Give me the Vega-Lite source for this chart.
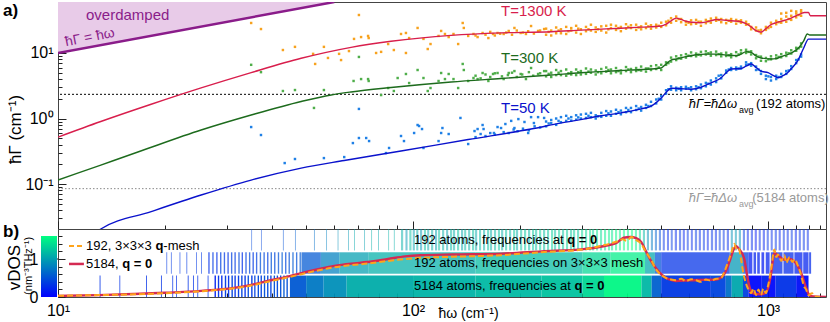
{
"$schema":"https://vega.github.io/schema/vega-lite/v6.json",
"padding":{"left":2,"top":1,"right":0,"bottom":2},
"spacing":0,
"bounds":"flush",
"config":{"font":"Liberation Sans","view":{"stroke":"#444","strokeWidth":1},"axis":{"domain":false,"grid":false,"tickColor":"#222","labelColor":"#000","titleColor":"#000","labelFlush":false,"labelOverlap":false,"labelFont":"Liberation Sans","titleFont":"Liberation Sans"}},
"datasets":{
"od":[{"w":10,"g":10},{"w":60,"g":60}],
"lr":[{"w":10,"g":0.52},{"w":13.2,"g":0.9},{"w":18.3,"g":1.65},{"w":25.3,"g":2.93},{"w":35,"g":5.02},{"w":48.4,"g":8.3},{"w":66.9,"g":12.2},{"w":86.7,"g":15.1},{"w":128,"g":18.6},{"w":177,"g":20.3},{"w":245,"g":21.1},{"w":297,"g":22.3},{"w":339,"g":23.1},{"w":385,"g":23.9},{"w":439,"g":24.8},{"w":500,"g":25.8},{"w":516,"g":27.5},{"w":533,"g":31},{"w":551,"g":34},{"w":569,"g":32.5},{"w":587,"g":30.5},{"w":607,"g":29.5},{"w":647,"g":29},{"w":690,"g":31},{"w":714,"g":32.5},{"w":738,"g":32},{"w":787,"g":31},{"w":839,"g":30},{"w":867,"g":28},{"w":896,"g":25},{"w":925,"g":22},{"w":955,"g":20.9},{"w":986,"g":23.5},{"w":1019,"g":27},{"w":1054,"g":29},{"w":1089,"g":30.5},{"w":1125,"g":32},{"w":1162,"g":34},{"w":1200,"g":37},{"w":1239,"g":40},{"w":1265,"g":41.5},{"w":1300,"g":41.5},{"w":1315,"g":37},{"w":1456,"g":37}],
"lg":[{"w":10,"g":0.115},{"w":13.2,"g":0.195},{"w":17.1,"g":0.319},{"w":25.3,"g":0.667},{"w":35,"g":1.13},{"w":48.4,"g":1.82},{"w":58.8,"g":2.29},{"w":66.9,"g":2.54},{"w":86.7,"g":2.97},{"w":128,"g":3.61},{"w":177,"g":4.08},{"w":245,"g":4.61},{"w":297,"g":5.0},{"w":339,"g":5.2},{"w":385,"g":5.4},{"w":439,"g":5.6},{"w":500,"g":5.9},{"w":516,"g":6.8},{"w":533,"g":7.8},{"w":551,"g":8.1},{"w":587,"g":8.8},{"w":627,"g":9.4},{"w":668,"g":9.6},{"w":714,"g":9.6},{"w":762,"g":9.3},{"w":813,"g":9.1},{"w":839,"g":9.6},{"w":867,"g":10.5},{"w":896,"g":10.2},{"w":925,"g":9.0},{"w":955,"g":8.4},{"w":1019,"g":8.1},{"w":1054,"g":8.2},{"w":1089,"g":8.8},{"w":1162,"g":10.0},{"w":1220,"g":12},{"w":1260,"g":15.3},{"w":1290,"g":19.5},{"w":1310,"g":18.8},{"w":1456,"g":18.8}],
"lb":[{"w":13.0,"g":0.0195},{"w":13.2,"g":0.0206},{"w":18.3,"g":0.038},{"w":25.3,"g":0.068},{"w":35,"g":0.115},{"w":48.4,"g":0.175},{"w":64,"g":0.229},{"w":92.5,"g":0.319},{"w":143,"g":0.478},{"w":215,"g":0.691},{"w":260,"g":0.85},{"w":302,"g":0.98},{"w":339,"g":1.1},{"w":385,"g":1.22},{"w":439,"g":1.4},{"w":468,"g":1.55},{"w":484,"g":1.75},{"w":500,"g":2.05},{"w":516,"g":2.5},{"w":533,"g":2.9},{"w":569,"g":2.85},{"w":607,"g":2.8},{"w":647,"g":3.0},{"w":690,"g":3.5},{"w":738,"g":4.2},{"w":762,"g":5.0},{"w":787,"g":5.7},{"w":839,"g":5.8},{"w":867,"g":6.3},{"w":896,"g":6.8},{"w":925,"g":6.0},{"w":955,"g":5.3},{"w":1000,"g":5.0},{"w":1036,"g":4.5},{"w":1066,"g":4.2},{"w":1100,"g":4.5},{"w":1135,"g":5.0},{"w":1170,"g":6.0},{"w":1210,"g":7.5},{"w":1260,"g":11.9},{"w":1300,"g":16.3},{"w":1456,"g":16.3}],
"po":[{"w":35,"g":28.7},{"w":37.3,"g":23.2},{"w":43,"g":11.1},{"w":46.5,"g":12.4},{"w":52.3,"g":9.7},{"w":53,"g":6.8},{"w":56.1,"g":12.4},{"w":57.6,"g":8.4},{"w":61.9,"g":9.7},{"w":62.7,"g":7.8},{"w":66,"g":10.7},{"w":68.2,"g":16.4},{"w":70.4,"g":38},{"w":71.4,"g":17.5},{"w":74.7,"g":18.2},{"w":75,"g":16.9},{"w":78.7,"g":10},{"w":81.3,"g":10.4},{"w":85.1,"g":13.7},{"w":88.3,"g":11.1},{"w":92.5,"g":19.5},{"w":95.5,"g":20.2},{"w":95.5,"g":10},{"w":97.5,"g":16.9},{"w":103,"g":24.1},{"w":107,"g":16.4},{"w":110,"g":11.5},{"w":112,"g":13.7},{"w":118,"g":18.2},{"w":120,"g":21.7},{"w":123,"g":19.5},{"w":126,"g":17.5},{"w":130,"g":19.5},{"w":134,"g":13.7},{"w":138,"g":28.7},{"w":139,"g":24.1},{"w":143,"g":18.2},{"w":148,"g":19.5},{"w":150,"g":18.5},{"w":152,"g":17.5},{"w":157,"g":20.2},{"w":160,"g":19},{"w":163,"g":16.9},{"w":165,"g":21},{"w":168,"g":19.5},{"w":170,"g":18.5},{"w":173,"g":20.2},{"w":176,"g":19.7},{"w":180,"g":19.5},{"w":183,"g":20.5},{"w":186,"g":21.7},{"w":190,"g":19},{"w":193,"g":24.1},{"w":196,"g":22},{"w":201,"g":20.2},{"w":204,"g":20.5},{"w":208,"g":19.5},{"w":211,"g":21.5},{"w":215,"g":25.8},{"w":219,"g":19.8},{"w":225,"g":21.7},{"w":228,"g":22},{"w":234,"g":23.2},
{"w":237,"g":23.5},{"w":237,"g":19},{"w":245,"g":22},{"w":245,"g":18.5},{"w":253,"g":24.5},{"w":253,"g":20},{"w":261,"g":20},{"w":261,"g":23},{"w":270,"g":25},{"w":270,"g":19.5},{"w":279,"g":22},{"w":279,"g":24},{"w":288,"g":20.5},{"w":288,"g":26},{"w":297,"g":23},{"w":297,"g":19.5},{"w":307,"g":25},{"w":307,"g":21.5},{"w":317,"g":27},{"w":317,"g":22},{"w":327,"g":21},{"w":327,"g":24.5},{"w":339,"g":25.5},{"w":339,"g":22},{"w":350,"g":20.5},{"w":350,"g":26},{"w":361,"g":24},{"w":361,"g":27},{"w":373,"g":22.5},{"w":373,"g":26},{"w":385,"g":25},{"w":385,"g":21.5},{"w":398,"g":27.5},{"w":398,"g":23.5},{"w":411,"g":24},{"w":411,"g":26.5},{"w":425,"g":22.5},{"w":425,"g":27},{"w":439,"g":25.5},{"w":439,"g":23},{"w":453,"g":28},{"w":453,"g":24},{"w":468,"g":23.5},{"w":468,"g":26.5},{"w":484,"g":27},{"w":484,"g":24.5},{"w":500,"g":25},{"w":500,"g":29},{"w":516,"g":30},{"w":516,"g":26.5},{"w":533,"g":34},{"w":533,"g":29},{"w":551,"g":36},{"w":551,"g":31},{"w":569,"g":33},{"w":569,"g":29.5},{"w":587,"g":30},{"w":587,"g":27},{"w":607,"g":31.5},{"w":607,"g":27.5},{"w":627,"g":28},{"w":627,"g":32},{"w":647,"g":30},{"w":647,"g":26},{"w":668,"g":28.5},{"w":668,"g":32},{"w":690,"g":33.5},{"w":690,"g":29},{"w":714,"g":31},{"w":714,"g":34.5},{"w":738,"g":33},{"w":738,"g":29.5},{"w":762,"g":32},{"w":762,"g":28.5},{"w":787,"g":30},{"w":787,"g":33},{"w":813,"g":32},{"w":813,"g":28},{"w":839,"g":29},{"w":839,"g":31.5},{"w":867,"g":27},{"w":867,"g":30},{"w":896,"g":25},{"w":896,"g":23},{"w":925,"g":22},{"w":925,"g":24.5},{"w":955,"g":20},{"w":955,"g":22.5},{"w":986,"g":25},{"w":986,"g":22.5},{"w":1019,"g":29},{"w":1019,"g":25},{"w":1054,"g":31},{"w":1054,"g":27.5},{"w":1089,"g":33},{"w":1089,"g":29},{"w":1125,"g":30},{"w":1125,"g":36},{"w":1162,"g":37},{"w":1162,"g":32},{"w":1200,"g":35},{"w":1200,"g":40},{"w":1239,"g":42},{"w":1239,"g":37},{"w":1089,"g":40},{"w":1162,"g":44},{"w":1200,"g":43},{"w":1125,"g":41},{"w":1239,"g":45},
{"w":241,"g":21},{"w":257,"g":22},{"w":274,"g":21.5},{"w":292,"g":23.5},{"w":312,"g":23},{"w":332,"g":23},{"w":355,"g":23},{"w":379,"g":24},{"w":404,"g":25},{"w":432,"g":24.5},{"w":460,"g":25.5},{"w":492,"g":26},{"w":524,"g":31},{"w":560,"g":33},{"w":597,"g":29},{"w":637,"g":30},{"w":679,"g":30.5},{"w":726,"g":32},{"w":775,"g":31},{"w":826,"g":30.5},{"w":881,"g":27.5},{"w":940,"g":22},{"w":1002,"g":24},{"w":1071,"g":29.5},{"w":1143,"g":33},{"w":1219,"g":38}],
"pg":[{"w":35,"g":6.6},{"w":37.3,"g":5.1},{"w":43,"g":2.63},{"w":46.5,"g":2.72},{"w":52.6,"g":1.45},{"w":56.1,"g":2.72},{"w":68,"g":3.74},{"w":70.4,"g":8.7},{"w":71.4,"g":4.0},{"w":74.7,"g":4.0},{"w":75,"g":3.74},{"w":81.3,"g":2.28},{"w":85.1,"g":2.92},{"w":88.3,"g":2.63},{"w":90.5,"g":4.15},{"w":95.5,"g":4.78},{"w":97.5,"g":3.48},{"w":103,"g":5.5},{"w":107,"g":4.15},{"w":110,"g":2.63},{"w":112,"g":2.92},{"w":118,"g":3.74},{"w":120,"g":4.95},{"w":123,"g":4.0},{"w":126,"g":4.78},{"w":130,"g":4.0},{"w":134,"g":2.92},{"w":138,"g":6.8},{"w":139,"g":5.5},{"w":143,"g":3.74},{"w":148,"g":4.15},{"w":150,"g":4.5},{"w":152,"g":4.0},{"w":155,"g":4.1},{"w":157,"g":4.95},{"w":160,"g":4.7},{"w":163,"g":3.74},{"w":165,"g":4.3},{"w":168,"g":4.78},{"w":170,"g":4.9},{"w":173,"g":4.95},{"w":178,"g":4.4},{"w":180,"g":4.0},{"w":185,"g":4.6},{"w":186,"g":4.95},{"w":190,"g":5.0},{"w":193,"g":5.3},{"w":196,"g":4.3},{"w":201,"g":4.78},{"w":203,"g":4.7},{"w":208,"g":4.0},{"w":212,"g":5.1},{"w":215,"g":5.9},{"w":218,"g":4.5},{"w":225,"g":4.78},{"w":228,"g":4.9},{"w":234,"g":5.3},
{"w":237,"g":5.3},{"w":237,"g":4.4},{"w":245,"g":5.0},{"w":245,"g":4.3},{"w":253,"g":5.5},{"w":253,"g":4.6},{"w":261,"g":4.6},{"w":261,"g":5.3},{"w":270,"g":5.6},{"w":270,"g":4.5},{"w":279,"g":5.1},{"w":279,"g":4.7},{"w":288,"g":4.6},{"w":288,"g":5.6},{"w":297,"g":5.3},{"w":297,"g":4.7},{"w":307,"g":5.8},{"w":307,"g":4.8},{"w":317,"g":5.0},{"w":317,"g":5.6},{"w":327,"g":4.7},{"w":327,"g":5.4},{"w":339,"g":5.7},{"w":339,"g":4.9},{"w":350,"g":5.2},{"w":350,"g":6.0},{"w":361,"g":4.9},{"w":361,"g":5.6},{"w":373,"g":5.9},{"w":373,"g":5.1},{"w":385,"g":5.4},{"w":385,"g":4.9},{"w":398,"g":6.1},{"w":398,"g":5.3},{"w":411,"g":5.1},{"w":411,"g":5.7},{"w":425,"g":5.9},{"w":425,"g":5.3},{"w":439,"g":5.4},{"w":439,"g":6.2},{"w":453,"g":5.8},{"w":453,"g":5.2},{"w":468,"g":6.3},{"w":468,"g":5.5},{"w":484,"g":5.7},{"w":484,"g":6.5},{"w":500,"g":6.6},{"w":500,"g":5.5},{"w":516,"g":7.2},{"w":516,"g":6.6},{"w":533,"g":8.5},{"w":533,"g":7.4},{"w":551,"g":8.9},{"w":551,"g":7.8},{"w":569,"g":8.2},{"w":569,"g":9.2},{"w":587,"g":9.6},{"w":587,"g":8.5},{"w":607,"g":9.0},{"w":607,"g":10.2},{"w":627,"g":9.8},{"w":627,"g":8.9},{"w":647,"g":10.4},{"w":647,"g":9.2},{"w":668,"g":9.5},{"w":668,"g":10.6},{"w":690,"g":9.1},{"w":690,"g":10.2},{"w":714,"g":10.5},{"w":714,"g":9.3},{"w":738,"g":9.8},{"w":738,"g":8.9},{"w":762,"g":9.0},{"w":762,"g":10.1},{"w":787,"g":9.6},{"w":787,"g":8.6},{"w":813,"g":10.3},{"w":813,"g":9.0},{"w":839,"g":9.9},{"w":839,"g":11.0},{"w":867,"g":11.2},{"w":867,"g":10.0},{"w":896,"g":10.6},{"w":896,"g":9.5},{"w":925,"g":9.3},{"w":925,"g":8.3},{"w":955,"g":7.6},{"w":955,"g":8.8},{"w":986,"g":8.4},{"w":986,"g":7.5},{"w":1019,"g":8.9},{"w":1019,"g":8.0},{"w":1054,"g":9.2},{"w":1054,"g":8.3},{"w":1089,"g":9.6},{"w":1089,"g":8.6},{"w":1125,"g":10.1},{"w":1125,"g":9.0},{"w":1162,"g":11.0},{"w":1162,"g":9.8},{"w":1200,"g":12.0},{"w":1200,"g":10.8},{"w":1239,"g":14},{"w":1239,"g":12.5},
{"w":241,"g":4.8},{"w":257,"g":5.0},{"w":274,"g":4.9},{"w":292,"g":5.1},{"w":312,"g":5.2},{"w":332,"g":5.1},{"w":355,"g":5.5},{"w":379,"g":5.3},{"w":404,"g":5.6},{"w":432,"g":5.5},{"w":460,"g":5.8},{"w":492,"g":6.0},{"w":524,"g":7.0},{"w":560,"g":8.3},{"w":597,"g":9.1},{"w":637,"g":9.4},{"w":679,"g":9.9},{"w":726,"g":9.6},{"w":775,"g":9.2},{"w":826,"g":9.5},{"w":881,"g":10.4},{"w":940,"g":8.8},{"w":1002,"g":8.0},{"w":1071,"g":8.7},{"w":1143,"g":9.9},{"w":1219,"g":11.8}],
"pb":[{"w":35,"g":0.741},{"w":37.3,"g":0.56},{"w":43.5,"g":0.209},{"w":46.5,"g":0.241},{"w":56.1,"g":0.249},{"w":64,"g":0.258},{"w":67.7,"g":0.422},{"w":70.4,"g":0.504},{"w":73.8,"g":0.504},{"w":70.4,"g":1.40},{"w":75.2,"g":0.453},{"w":83.9,"g":0.297},{"w":85.6,"g":0.355},{"w":92.5,"g":0.541},{"w":94.3,"g":0.453},{"w":100.7,"g":0.601},{"w":104,"g":0.768},{"w":103,"g":0.796},{"w":106,"g":0.691},{"w":107,"g":0.355},{"w":118,"g":0.453},{"w":120,"g":0.601},{"w":121,"g":0.716},{"w":126,"g":0.58},{"w":136,"g":1.02},{"w":143,"g":0.408},{"w":149,"g":0.644},{"w":150,"g":0.52},{"w":152,"g":0.691},{"w":155,"g":0.58},{"w":157,"g":0.796},{"w":158,"g":0.691},{"w":160,"g":0.54},{"w":165,"g":0.6},{"w":169,"g":0.601},{"w":170,"g":0.57},{"w":173,"g":0.741},{"w":177,"g":0.716},{"w":180,"g":0.62},{"w":182,"g":0.824},{"w":186,"g":0.6},{"w":189,"g":0.92},{"w":192,"g":0.68},{"w":193,"g":0.716},{"w":197,"g":0.64},{"w":198,"g":0.98},{"w":204,"g":0.7},{"w":206,"g":0.885},{"w":211,"g":0.601},{"w":212,"g":0.66},{"w":215,"g":1.05},{"w":219,"g":0.853},{"w":220,"g":0.76},{"w":225,"g":1.05},{"w":228,"g":0.73},{"w":234,"g":1.02},
{"w":237,"g":0.9},{"w":237,"g":0.76},{"w":245,"g":0.85},{"w":245,"g":0.95},{"w":253,"g":0.8},{"w":253,"g":1.0},{"w":261,"g":1.05},{"w":261,"g":0.88},{"w":270,"g":0.92},{"w":270,"g":1.1},{"w":279,"g":1.05},{"w":279,"g":0.93},{"w":288,"g":1.12},{"w":288,"g":0.96},{"w":297,"g":1.0},{"w":297,"g":1.15},{"w":307,"g":1.18},{"w":307,"g":1.02},{"w":317,"g":1.05},{"w":317,"g":1.22},{"w":327,"g":1.12},{"w":327,"g":1.0},{"w":339,"g":1.22},{"w":339,"g":1.06},{"w":350,"g":1.1},{"w":350,"g":1.3},{"w":361,"g":1.28},{"w":361,"g":1.1},{"w":373,"g":1.18},{"w":373,"g":1.36},{"w":385,"g":1.32},{"w":385,"g":1.16},{"w":398,"g":1.25},{"w":398,"g":1.45},{"w":411,"g":1.45},{"w":411,"g":1.25},{"w":425,"g":1.35},{"w":425,"g":1.55},{"w":439,"g":1.5},{"w":439,"g":1.32},{"w":453,"g":1.62},{"w":453,"g":1.45},{"w":468,"g":1.8},{"w":468,"g":1.55},{"w":484,"g":1.95},{"w":484,"g":1.7},{"w":500,"g":2.2},{"w":500,"g":1.95},{"w":516,"g":2.7},{"w":516,"g":2.4},{"w":533,"g":3.1},{"w":533,"g":2.75},{"w":551,"g":2.95},{"w":551,"g":2.7},{"w":569,"g":3.0},{"w":569,"g":2.7},{"w":587,"g":2.85},{"w":587,"g":3.05},{"w":607,"g":2.7},{"w":607,"g":3.0},{"w":627,"g":3.1},{"w":627,"g":2.8},{"w":647,"g":3.3},{"w":647,"g":2.9},{"w":668,"g":3.5},{"w":668,"g":3.1},{"w":690,"g":3.8},{"w":690,"g":3.3},{"w":714,"g":4.1},{"w":714,"g":3.6},{"w":738,"g":4.6},{"w":738,"g":4.1},{"w":762,"g":5.4},{"w":762,"g":5.0},{"w":787,"g":5.9},{"w":787,"g":5.5},{"w":813,"g":5.6},{"w":813,"g":6.0},{"w":839,"g":5.8},{"w":839,"g":6.2},{"w":867,"g":6.6},{"w":867,"g":7.2},{"w":896,"g":7.0},{"w":896,"g":6.4},{"w":925,"g":5.5},{"w":925,"g":6.2},{"w":955,"g":4.8},{"w":955,"g":5.3},{"w":986,"g":4.5},{"w":986,"g":4.0},{"w":1019,"g":4.3},{"w":1019,"g":3.8},{"w":1054,"g":4.0},{"w":1054,"g":4.5},{"w":1089,"g":4.3},{"w":1089,"g":4.8},{"w":1125,"g":4.8},{"w":1125,"g":5.3},{"w":1162,"g":5.7},{"w":1162,"g":6.3},{"w":1200,"g":7.0},{"w":1200,"g":7.8},{"w":1239,"g":8.8},{"w":1239,"g":9.5},
{"w":241,"g":0.84},{"w":257,"g":0.92},{"w":274,"g":1.0},{"w":292,"g":1.04},{"w":312,"g":1.1},{"w":332,"g":1.08},{"w":355,"g":1.2},{"w":379,"g":1.25},{"w":404,"g":1.35},{"w":432,"g":1.42},{"w":460,"g":1.55},{"w":492,"g":2.0},{"w":524,"g":2.8},{"w":560,"g":2.85},{"w":597,"g":2.9},{"w":637,"g":3.0},{"w":679,"g":3.4},{"w":726,"g":4.5},{"w":775,"g":5.6},{"w":826,"g":5.8},{"w":881,"g":6.7},{"w":940,"g":5.6},{"w":1002,"g":4.4},{"w":1071,"g":4.3},{"w":1143,"g":5.4},{"w":1219,"g":8.0}],
"vr":[{"w":10,"d":0.03},{"w":13,"d":0.05},{"w":16.4,"d":0.08},{"w":20,"d":0.11},{"w":25.3,"d":0.16},{"w":31.3,"d":0.24},{"w":35,"d":0.32},{"w":39,"d":0.42},{"w":44,"d":0.53},{"w":48.5,"d":0.63},{"w":54,"d":0.73},{"w":60,"d":0.82},{"w":67,"d":0.88},{"w":74.5,"d":0.92},{"w":85,"d":1.0},{"w":95,"d":1.07},{"w":105,"d":1.1},{"w":130,"d":1.12},{"w":177,"d":1.14},{"w":230,"d":1.2},{"w":302,"d":1.26},{"w":340,"d":1.33},{"w":375,"d":1.43},{"w":392,"d":1.56},{"w":410,"d":1.58},{"w":425,"d":1.55},{"w":439,"d":1.45},{"w":453,"d":1.2},{"w":468,"d":0.95},{"w":484,"d":0.75},{"w":500,"d":0.6},{"w":516,"d":0.5},{"w":533,"d":0.45},{"w":551,"d":0.42},{"w":600,"d":0.44},{"w":650,"d":0.45},{"w":714,"d":0.46},{"w":752,"d":0.6},{"w":780,"d":0.95},{"w":800,"d":1.25},{"w":813,"d":1.34},{"w":830,"d":1.25},{"w":857,"d":1.0},{"w":872,"d":0.6},{"w":888,"d":0.24},{"w":905,"d":0.1},{"w":930,"d":0.08},{"w":960,"d":0.07},{"w":985,"d":0.12},{"w":1000,"d":0.23},{"w":1019,"d":0.6},{"w":1042,"d":1.16},{"w":1080,"d":1.05},{"w":1112,"d":0.98},{"w":1150,"d":1.0},{"w":1181,"d":0.95},{"w":1237,"d":0.65},{"w":1279,"d":0.25},{"w":1300,"d":0.08},{"w":1321,"d":0.02},{"w":1456,"d":0.0}],
"vo":[{"w":10,"d":0.03},{"w":13,"d":0.05},{"w":16.4,"d":0.07},{"w":20,"d":0.1},{"w":25.3,"d":0.15},{"w":31.3,"d":0.23},{"w":35,"d":0.3},{"w":39,"d":0.4},{"w":44,"d":0.51},{"w":48.5,"d":0.6},{"w":54,"d":0.7},{"w":60,"d":0.78},{"w":67,"d":0.84},{"w":74.5,"d":0.88},{"w":85,"d":0.95},{"w":95,"d":1.0},{"w":105,"d":1.03},{"w":130,"d":1.06},{"w":177,"d":1.1},{"w":230,"d":1.18},{"w":302,"d":1.25},{"w":340,"d":1.35},{"w":375,"d":1.46},{"w":390,"d":1.52},{"w":400,"d":1.48},{"w":412,"d":1.58},{"w":425,"d":1.5},{"w":439,"d":1.4},{"w":453,"d":1.18},{"w":468,"d":0.98},{"w":484,"d":0.72},{"w":500,"d":0.58},{"w":516,"d":0.5},{"w":533,"d":0.46},{"w":551,"d":0.44},{"w":569,"d":0.48},{"w":587,"d":0.42},{"w":607,"d":0.47},{"w":627,"d":0.44},{"w":647,"d":0.4},{"w":668,"d":0.46},{"w":690,"d":0.43},{"w":714,"d":0.48},{"w":738,"d":0.5},{"w":752,"d":0.65},{"w":770,"d":0.9},{"w":790,"d":1.2},{"w":803,"d":1.4},{"w":813,"d":1.28},{"w":826,"d":1.3},{"w":839,"d":1.0},{"w":853,"d":0.6},{"w":867,"d":0.35},{"w":880,"d":0.2},{"w":896,"d":0.1},{"w":910,"d":0.22},{"w":925,"d":0.05},{"w":940,"d":0.2},{"w":955,"d":0.05},{"w":970,"d":0.22},{"w":986,"d":0.1},{"w":1000,"d":0.3},{"w":1019,"d":0.7},{"w":1042,"d":1.25},{"w":1054,"d":1.05},{"w":1066,"d":1.12},{"w":1089,"d":0.95},{"w":1112,"d":1.1},{"w":1125,"d":0.9},{"w":1150,"d":1.05},{"w":1170,"d":0.92},{"w":1190,"d":1.0},{"w":1210,"d":0.85},{"w":1237,"d":0.6},{"w":1260,"d":0.3},{"w":1279,"d":0.2},{"w":1300,"d":0.05},{"w":1330,"d":0.1},{"w":1350,"d":0.02},{"w":1400,"d":0.0}],
"bands":[
{"s":"C","w1":13.1,"w2":13.17,"c":0.3},{"s":"C","w1":14.9,"w2":14.97,"c":0.3},{"s":"C","w1":17.7,"w2":17.79,"c":0.3},{"s":"C","w1":19.5,"w2":19.6,"c":0.3},{"s":"C","w1":21.0,"w2":21.1,"c":0.3},{"s":"C","w1":21.5,"w2":21.6,"c":0.3},{"s":"C","w1":23.2,"w2":23.32,"c":0.3},{"s":"C","w1":24.0,"w2":24.12,"c":0.3},{"s":"C","w1":24.7,"w2":24.82,"c":0.3},{"s":"C","w1":26.4,"w2":26.53,"c":0.3},
{"s":"C","w1":27.6,"w2":27.85,"c":0.2},{"s":"C","w1":28.2,"w2":28.45,"c":0.3},{"s":"C","w1":28.8,"w2":29.06,"c":0.25},{"s":"C","w1":29.5,"w2":29.77,"c":0.35},{"s":"C","w1":30.1,"w2":30.37,"c":0.3},{"s":"C","w1":30.8,"w2":31.08,"c":0.4},{"s":"C","w1":31.4,"w2":31.68,"c":0.3},{"s":"C","w1":32.1,"w2":32.39,"c":0.35},{"s":"C","w1":32.8,"w2":33.1,"c":0.4},{"s":"C","w1":33.5,"w2":33.8,"c":0.3},{"s":"C","w1":34.2,"w2":34.5,"c":0.45},{"s":"C","w1":35.0,"w2":35.32,"c":0.35},{"s":"C","w1":35.7,"w2":36.0,"c":0.4},{"s":"C","w1":36.5,"w2":36.83,"c":0.45},{"s":"C","w1":37.2,"w2":37.53,"c":0.4},{"s":"C","w1":38.0,"w2":38.34,"c":0.5},{"s":"C","w1":38.8,"w2":39.15,"c":0.45},{"s":"C","w1":39.6,"w2":39.96,"c":0.4},{"s":"C","w1":40.5,"w2":40.86,"c":0.5},{"s":"C","w1":41.3,"w2":41.67,"c":0.45},{"s":"C","w1":42.2,"w2":42.58,"c":0.5},{"s":"C","w1":43.1,"w2":43.49,"c":0.55},{"s":"C","w1":44.0,"w2":44.4,"c":0.5},
{"s":"C","w1":45,"w2":50,"c":0.55},{"s":"C","w1":50,"w2":56,"c":0.75},{"s":"C","w1":56,"w2":65,"c":0.9},{"s":"C","w1":65,"w2":100,"c":1.08},{"s":"C","w1":100,"w2":150,"c":1.12},{"s":"C","w1":150,"w2":230,"c":1.16},{"s":"C","w1":230,"w2":300,"c":1.22},{"s":"C","w1":300,"w2":345,"c":1.35},{"s":"C","w1":345,"w2":440,"c":1.55},{"s":"C","w1":440,"w2":470,"c":1.15},{"s":"C","w1":470,"w2":500,"c":0.6},{"s":"C","w1":500,"w2":690,"c":0.35},{"s":"C","w1":690,"w2":760,"c":0.42},{"s":"C","w1":760,"w2":790,"c":0.7},{"s":"C","w1":790,"w2":850,"c":1.05},{"s":"C","w1":850,"w2":880,"c":0.4},{"s":"C","w1":880,"w2":960,"c":0.05},{"s":"C","w1":960,"w2":1000,"c":0.2},{"s":"C","w1":1000,"w2":1050,"c":0.05},{"s":"C","w1":1050,"w2":1200,"c":0.3},{"s":"C","w1":1200,"w2":1300,"c":0.08},
{"s":"B","w1":20.2,"w2":20.3,"c":0.35},{"s":"B","w1":20.8,"w2":20.9,"c":0.35},{"s":"B","w1":22.0,"w2":22.11,"c":0.35},{"s":"B","w1":23.0,"w2":23.12,"c":0.35},{"s":"B","w1":24.5,"w2":24.62,"c":0.35},{"s":"B","w1":25.3,"w2":25.43,"c":0.35},
{"s":"B","w1":26.5,"w2":26.74,"c":0.3},{"s":"B","w1":27.2,"w2":27.44,"c":0.35},{"s":"B","w1":27.9,"w2":28.15,"c":0.3},{"s":"B","w1":28.6,"w2":28.86,"c":0.4},{"s":"B","w1":29.3,"w2":29.56,"c":0.35},{"s":"B","w1":30.0,"w2":30.27,"c":0.3},{"s":"B","w1":30.7,"w2":30.98,"c":0.4},{"s":"B","w1":31.4,"w2":31.68,"c":0.35},{"s":"B","w1":32.2,"w2":32.49,"c":0.45},{"s":"B","w1":32.9,"w2":33.2,"c":0.3},{"s":"B","w1":33.7,"w2":34.0,"c":0.4},{"s":"B","w1":34.5,"w2":34.81,"c":0.45},{"s":"B","w1":35.3,"w2":35.62,"c":0.35},{"s":"B","w1":36.1,"w2":36.42,"c":0.4},{"s":"B","w1":37.0,"w2":37.33,"c":0.5},{"s":"B","w1":37.9,"w2":38.24,"c":0.45},{"s":"B","w1":38.8,"w2":39.15,"c":0.4},{"s":"B","w1":39.7,"w2":40.06,"c":0.5},{"s":"B","w1":40.6,"w2":40.97,"c":0.45},{"s":"B","w1":41.6,"w2":41.97,"c":0.5},{"s":"B","w1":42.6,"w2":42.98,"c":0.55},{"s":"B","w1":43.6,"w2":43.99,"c":0.45},{"s":"B","w1":44.6,"w2":45.0,"c":0.5},{"s":"B","w1":45.7,"w2":46.11,"c":0.55},{"s":"B","w1":46.8,"w2":47.22,"c":0.5},{"s":"B","w1":47.9,"w2":48.33,"c":0.55},
{"s":"B","w1":48.5,"w2":55,"c":0.55},{"s":"B","w1":55,"w2":62,"c":0.8},{"s":"B","w1":62,"w2":75,"c":1.0},{"s":"B","w1":75,"w2":150,"c":1.1},{"s":"B","w1":150,"w2":300,"c":1.18},{"s":"B","w1":300,"w2":360,"c":1.35},{"s":"B","w1":360,"w2":450,"c":1.5},{"s":"B","w1":450,"w2":480,"c":1.05},{"s":"B","w1":480,"w2":500,"c":0.5},{"s":"B","w1":500,"w2":780,"c":0.3},{"s":"B","w1":780,"w2":850,"c":0.95},{"s":"B","w1":850,"w2":880,"c":0.4},{"s":"B","w1":880,"w2":903,"c":0.15},{"s":"B","w1":910,"w2":925,"c":0.2},{"s":"B","w1":932,"w2":948,"c":0.2},{"s":"B","w1":958,"w2":975,"c":0.15},{"s":"B","w1":985,"w2":1010,"c":0.2},{"s":"B","w1":1018,"w2":1098,"c":0.25},{"s":"B","w1":1105,"w2":1180,"c":0.25},{"s":"B","w1":1186,"w2":1250,"c":0.2},{"s":"B","w1":1256,"w2":1300,"c":0.2},{"s":"B","w1":1305,"w2":1322,"c":0.25},
{"s":"A","w1":35.0,"w2":35.21,"c":0.45},{"s":"A","w1":37.3,"w2":37.52,"c":0.45},{"s":"A","w1":43.0,"w2":43.26,"c":0.5},{"s":"A","w1":46.5,"w2":46.78,"c":0.6},{"s":"A","w1":52.6,"w2":52.92,"c":0.7},{"s":"A","w1":56.9,"w2":57.24,"c":0.8},{"s":"A","w1":61.3,"w2":61.67,"c":0.9},{"s":"A","w1":65.6,"w2":65.99,"c":0.95},{"s":"A","w1":68.2,"w2":68.61,"c":1.05},{"s":"A","w1":72.8,"w2":73.24,"c":1.0},{"s":"A","w1":76.2,"w2":76.66,"c":1.1},{"s":"A","w1":79.7,"w2":80.18,"c":1.05},{"s":"A","w1":85.1,"w2":85.61,"c":1.1},{"s":"A","w1":88.3,"w2":88.83,"c":1.1},
{"s":"A","w1":92.5,"w2":93.8,"c":1.1},{"s":"A","w1":95.2,"w2":96.5,"c":0.95},{"s":"A","w1":97.6,"w2":99.0,"c":1.2},{"s":"A","w1":99.8,"w2":101.2,"c":1.0},{"s":"A","w1":102.1,"w2":103.5,"c":1.1},{"s":"A","w1":104.6,"w2":106.1,"c":0.95},{"s":"A","w1":107.3,"w2":108.8,"c":1.2},{"s":"A","w1":109.6,"w2":111.1,"c":1.05},{"s":"A","w1":112.4,"w2":114.0,"c":1.1},{"s":"A","w1":115.3,"w2":116.9,"c":1.0},{"s":"A","w1":117.6,"w2":119.2,"c":1.2},{"s":"A","w1":120.7,"w2":122.4,"c":1.1},{"s":"A","w1":123.9,"w2":125.6,"c":1.0},{"s":"A","w1":127.1,"w2":128.9,"c":1.15},{"s":"A","w1":129.6,"w2":131.4,"c":1.1},{"s":"A","w1":133.0,"w2":134.9,"c":1.2},{"s":"A","w1":136.5,"w2":138.4,"c":1.05},{"s":"A","w1":139.3,"w2":141.2,"c":1.15},{"s":"A","w1":142.9,"w2":144.9,"c":1.1},{"s":"A","w1":146.6,"w2":148.7,"c":1.2},{"s":"A","w1":149.5,"w2":151.6,"c":1.05},{"s":"A","w1":153.4,"w2":155.5,"c":1.15},{"s":"A","w1":157.4,"w2":159.6,"c":1.1},{"s":"A","w1":161.6,"w2":163.9,"c":1.2},{"s":"A","w1":164.7,"w2":167.0,"c":1.1},{"s":"A","w1":169.0,"w2":171.4,"c":1.15},{"s":"A","w1":173.4,"w2":175.8,"c":1.2},{"s":"A","w1":177.0,"w2":179.5,"c":1.1},{"s":"A","w1":181.6,"w2":184.1,"c":1.2},{"s":"A","w1":186.4,"w2":189.0,"c":1.15},{"s":"A","w1":191.3,"w2":194.0,"c":1.25},{"s":"A","w1":195.0,"w2":197.7,"c":1.1},{"s":"A","w1":200.2,"w2":203.0,"c":1.2},{"s":"A","w1":205.4,"w2":208.3,"c":1.25},{"s":"A","w1":210.8,"w2":213.8,"c":1.15},{"s":"A","w1":216.3,"w2":219.3,"c":1.25},{"s":"A","w1":220.6,"w2":223.7,"c":1.2},{"s":"A","w1":226.4,"w2":229.6,"c":1.3},{"s":"A","w1":232.3,"w2":235.6,"c":1.2},{"s":"A","w1":238.4,"w2":241.7,"c":1.25},{"s":"A","w1":244.7,"w2":248.1,"c":1.3},{"s":"A","w1":249.5,"w2":253.0,"c":1.2},{"s":"A","w1":256.0,"w2":259.6,"c":1.3},{"s":"A","w1":262.7,"w2":266.4,"c":1.25},{"s":"A","w1":269.6,"w2":273.4,"c":1.3},{"s":"A","w1":276.7,"w2":280.6,"c":1.25},{"s":"A","w1":282.2,"w2":286.2,"c":1.3},{"s":"A","w1":289.6,"w2":293.7,"c":1.25},{"s":"A","w1":297.2,"w2":301.4,"c":1.35},{"s":"A","w1":305.0,"w2":309.3,"c":1.35},{"s":"A","w1":313.0,"w2":317.4,"c":1.4},{"s":"A","w1":319.2,"w2":323.7,"c":1.35},{"s":"A","w1":327.5,"w2":332.1,"c":1.45},{"s":"A","w1":336.1,"w2":340.8,"c":1.4},{"s":"A","w1":345.0,"w2":349.8,"c":1.5},{"s":"A","w1":354.0,"w2":358.9,"c":1.5},{"s":"A","w1":361.0,"w2":366.1,"c":1.45},{"s":"A","w1":370.5,"w2":375.7,"c":1.55},{"s":"A","w1":380.0,"w2":385.3,"c":1.5},{"s":"A","w1":390.0,"w2":395.5,"c":1.6},{"s":"A","w1":400.3,"w2":405.9,"c":1.55},{"s":"A","w1":410.8,"w2":416.6,"c":1.6},{"s":"A","w1":421.6,"w2":427.5,"c":1.5},{"s":"A","w1":432.6,"w2":438.7,"c":1.4},{"s":"A","w1":444.0,"w2":450.2,"c":1.15},{"s":"A","w1":455.6,"w2":462.0,"c":0.9},{"s":"A","w1":467.6,"w2":474.1,"c":0.75},{"s":"A","w1":479.9,"w2":486.6,"c":0.6},{"s":"A","w1":492.5,"w2":499.4,"c":0.45},
{"s":"A","w1":505,"w2":512,"c":0.3},{"s":"A","w1":519,"w2":526,"c":0.25},{"s":"A","w1":532,"w2":539,"c":0.35},{"s":"A","w1":546,"w2":554,"c":0.25},{"s":"A","w1":561,"w2":569,"c":0.3},{"s":"A","w1":575,"w2":583,"c":0.2},{"s":"A","w1":590,"w2":598,"c":0.3},{"s":"A","w1":606,"w2":614,"c":0.25},{"s":"A","w1":622,"w2":631,"c":0.35},{"s":"A","w1":638,"w2":647,"c":0.25},{"s":"A","w1":655,"w2":664,"c":0.3},{"s":"A","w1":672,"w2":681,"c":0.2},{"s":"A","w1":690,"w2":700,"c":0.3},{"s":"A","w1":708,"w2":718,"c":0.25},{"s":"A","w1":726,"w2":736,"c":0.35},{"s":"A","w1":745,"w2":755,"c":0.3},{"s":"A","w1":765,"w2":776,"c":0.25},{"s":"A","w1":785,"w2":796,"c":0.9},{"s":"A","w1":806,"w2":817,"c":0.95},{"s":"A","w1":827,"w2":839,"c":0.9},{"s":"A","w1":849,"w2":861,"c":0.35},{"s":"A","w1":871,"w2":883,"c":0.2},{"s":"A","w1":894,"w2":907,"c":0.25},{"s":"A","w1":917,"w2":930,"c":0.15},{"s":"A","w1":941,"w2":954,"c":0.25},{"s":"A","w1":966,"w2":980,"c":0.2},{"s":"A","w1":991,"w2":1005,"c":0.3},{"s":"A","w1":1017,"w2":1031,"c":0.25},{"s":"A","w1":1044,"w2":1059,"c":0.3},{"s":"A","w1":1071,"w2":1086,"c":0.2},{"s":"A","w1":1100,"w2":1115,"c":0.3},{"s":"A","w1":1128,"w2":1144,"c":0.25},{"s":"A","w1":1158,"w2":1174,"c":0.3},{"s":"A","w1":1189,"w2":1206,"c":0.2},{"s":"A","w1":1220,"w2":1237,"c":0.25},{"s":"A","w1":1252,"w2":1270,"c":0.3},{"s":"A","w1":1285,"w2":1303,"c":0.25}
]
},
"vconcat":[
{
 "width":768,"height":227,
 "layer":[
  {"layer":[
   {"data":{"name":"od"},"mark":{"type":"area","color":"#e8cbe8","clip":true},
    "encoding":{
     "x":{"field":"w","type":"quantitative","scale":{"type":"log","domain":[10,1456],"nice":false},"axis":{"orient":"bottom","values":[10,20,30,40,50,60,70,80,90,100,200,300,400,500,600,700,800,900,1000,1100,1200,1300,1400],"labels":false,"title":null,"tickSize":{"condition":{"test":"datum.value == 10 || datum.value == 100 || datum.value == 1000","value":-8},"value":-4}}},
     "y":{"field":"g","type":"quantitative","scale":{"type":"log","domain":[0.0206,60],"nice":false},"axis":{"orient":"left","values":[0.03,0.04,0.05,0.06,0.07,0.08,0.09,0.1,0.2,0.3,0.4,0.5,0.6,0.7,0.8,0.9,1,2,3,4,5,6,7,8,9,10,20,30,40,50,60],"labels":false,"title":null,"tickSize":{"condition":{"test":"datum.value == 0.1 || datum.value == 1 || datum.value == 10","value":-8},"value":-4}}},
     "y2":{"datum":60}}},
   {"data":{"name":"od"},"mark":{"type":"line","color":"#8a1c8a","strokeWidth":2.5,"clip":true},"encoding":{"x":{"field":"w","type":"quantitative"},"y":{"field":"g","type":"quantitative"}}},
   {"data":{"values":[{}]},"mark":{"type":"rule","color":"#000","strokeDash":[2,2],"strokeWidth":1},"encoding":{"y":{"datum":2.34}}},
   {"data":{"values":[{}]},"mark":{"type":"rule","color":"#888","strokeDash":[1.5,2],"strokeWidth":1},"encoding":{"y":{"datum":0.085}}}
  ]},
  {"encoding":{
    "x":{"field":"w","type":"quantitative","axis":null},
    "y":{"field":"g","type":"quantitative","axis":{"orient":"left","values":[0.1,1,10],"ticks":false,"labelExpr":"datum.value == 10 ? '10¹' : datum.value == 1 ? '10⁰' : '10⁻¹'","labelFontSize":16,"labelPadding":5,"labelBaseline":"middle","title":"ħΓ (cm⁻¹)","titleFontSize":17,"titleFontWeight":"normal","titleAngle":270,"titleAlign":"center","titleBaseline":"bottom","titleX":-34,"titleY":127}}},
   "layer":[
    {"data":{"name":"po"},"mark":{"type":"square","filled":true,"size":6,"color":"#f7a21e","opacity":1}},
    {"data":{"name":"pg"},"mark":{"type":"square","filled":true,"size":6,"color":"#4fae4a","opacity":1}},
    {"data":{"name":"pb"},"mark":{"type":"square","filled":true,"size":6,"color":"#1f80e6","opacity":1}},
    {"data":{"name":"lr"},"mark":{"type":"line","color":"#d81e4c","strokeWidth":1.4,"clip":true,"interpolate":"monotone"}},
    {"data":{"name":"lg"},"mark":{"type":"line","color":"#1d6b1d","strokeWidth":1.4,"clip":true,"interpolate":"monotone"}},
    {"data":{"name":"lb"},"mark":{"type":"line","color":"#0a12cc","strokeWidth":1.4,"clip":true,"interpolate":"monotone"}},
    {"data":{"values":[{"w":11.99,"g":38,"t":"overdamped"}]},"mark":{"type":"text","color":"#8a1c8a","fontSize":15,"align":"left","baseline":"middle"},"encoding":{"text":{"field":"t"}}},
    {"data":{"values":[{"w":12.3,"g":17.2,"t":"ħΓ = ħω"}]},"mark":{"type":"text","color":"#8a1c8a","fontSize":14,"align":"center","baseline":"middle","angle":349},"encoding":{"text":{"field":"t"}}},
    {"data":{"values":[{"w":177,"g":43.8,"t":"T=1300 K"}]},"mark":{"type":"text","color":"#d81e4c","fontSize":15,"align":"left","baseline":"middle"},"encoding":{"text":{"field":"t"}}},
    {"data":{"values":[{"w":177,"g":8.4,"t":"T=300 K"}]},"mark":{"type":"text","color":"#1d6b1d","fontSize":15,"align":"left","baseline":"middle"},"encoding":{"text":{"field":"t"}}},
    {"data":{"values":[{"w":177,"g":1.45,"t":"T=50 K"}]},"mark":{"type":"text","color":"#0a12cc","fontSize":15,"align":"left","baseline":"middle"},"encoding":{"text":{"field":"t"}}},
    {"data":{"values":[{"w":598,"g":1.67,"t":"ħΓ=ħΔω"}]},"mark":{"type":"text","color":"#000","fontSize":13,"fontStyle":"italic","align":"left","baseline":"middle"},"encoding":{"text":{"field":"t"}}},
    {"data":{"values":[{"w":828,"g":1.67,"t":"avg"}]},"mark":{"type":"text","color":"#000","fontSize":9,"align":"left","baseline":"middle","dy":6},"encoding":{"text":{"field":"t"}}},
    {"data":{"values":[{"w":925,"g":1.67,"t":"(192 atoms)"}]},"mark":{"type":"text","color":"#000","fontSize":13,"align":"left","baseline":"middle"},"encoding":{"text":{"field":"t"}}},
    {"data":{"values":[{"w":598,"g":0.061,"t":"ħΓ=ħΔω"}]},"mark":{"type":"text","color":"#999","fontSize":13,"fontStyle":"italic","align":"left","baseline":"middle"},"encoding":{"text":{"field":"t"}}},
    {"data":{"values":[{"w":828,"g":0.061,"t":"avg"}]},"mark":{"type":"text","color":"#999","fontSize":9,"align":"left","baseline":"middle","dy":6},"encoding":{"text":{"field":"t"}}},
    {"data":{"values":[{"w":902,"g":0.061,"t":"(5184 atoms)"}]},"mark":{"type":"text","color":"#999","fontSize":13,"align":"left","baseline":"middle"},"encoding":{"text":{"field":"t"}}},
    {"data":{"values":[{"w":7.0,"g":44,"t":"a)"}]},"mark":{"type":"text","color":"#000","fontSize":17,"fontWeight":"bold","align":"left","baseline":"middle"},"encoding":{"text":{"field":"t"}}}
   ]}
 ],
 "resolve":{"axis":{"x":"independent","y":"independent"}}
},
{
 "width":768,"height":68,
 "layer":[
  {"data":{"name":"bands"},"mark":{"type":"rect","clip":true},
   "encoding":{
    "x":{"field":"w1","type":"quantitative","scale":{"type":"log","domain":[10,1456],"nice":false},"axis":{"orient":"bottom","values":[10,20,30,40,50,60,70,80,90,100,200,300,400,500,600,700,800,900,1000,1100,1200,1300,1400],"labels":false,"title":null,"tickSize":{"condition":{"test":"datum.value == 10 || datum.value == 100 || datum.value == 1000","value":-8},"value":-4}}},
    "x2":{"field":"w2"},
    "y":{"field":"s","type":"nominal","scale":{"domain":["A","B","C"],"paddingInner":0.08,"paddingOuter":0},"axis":null},
    "color":{"field":"c","type":"quantitative","scale":{"domain":[0,1.6],"range":["#0000ff","#00ff80"],"interpolate":"rgb"},"legend":{"orient":"none","legendX":-17,"legendY":234,"direction":"vertical","gradientLength":61,"gradientThickness":16,"labelOpacity":0,"labelExpr":"''","title":null,"gradientStrokeWidth":0,"padding":0}},
    "opacity":{"field":"s","type":"nominal","scale":{"domain":["A","B","C"],"range":[0.5,0.95,0.95]},"legend":null}}},
  {"encoding":{
    "x":{"field":"w","type":"quantitative","axis":{"orient":"bottom","values":[10,100,1000],"ticks":false,"labelExpr":"datum.value == 10 ? '10¹' : datum.value == 100 ? '10²' : '10³'","labelFontSize":16,"labelPadding":5,"title":"ħω (cm⁻¹)","titleFontSize":14,"titleFontWeight":"normal","titleX":410,"titleY":20,"titleBaseline":"alphabetic"}},
    "y":{"field":"d","type":"quantitative","scale":{"domain":[0,1.79],"nice":false},"axis":{"orient":"left","values":[0,1],"ticks":false,"labelFontSize":16,"labelPadding":20,"labelBaseline":"middle","title":"vDOS","titleFontSize":17,"titleFontWeight":"normal","titleAngle":270,"titleAlign":"center","titleBaseline":"bottom","titleX":-35,"titleY":38}}},
   "layer":[
    {"data":{"name":"vr"},"mark":{"type":"line","color":"#d42a52","strokeWidth":2.4,"clip":true,"interpolate":"monotone"}},
    {"data":{"name":"vo"},"mark":{"type":"line","color":"#ffa41b","strokeWidth":2,"strokeDash":[6,3],"clip":true,"interpolate":"monotone"}},
    {"data":{"values":[{"w":10.74,"d":1.34},{"w":11.83,"d":1.34}]},"mark":{"type":"line","color":"#ffa41b","strokeWidth":2,"strokeDash":[5,3]}},
    {"data":{"values":[{"w":10.74,"d":0.87},{"w":11.83,"d":0.87}]},"mark":{"type":"line","color":"#d42a52","strokeWidth":2.5}},
    {"data":{"values":[{"w":11.99,"d":1.34,"t":"192, 3×3×3"},{"w":19.8,"d":1.34,"t":"-mesh"},{"w":11.99,"d":0.87,"t":"5184,"},{"w":100.65,"d":1.5,"t":"192 atoms, frequencies at"},{"w":100.65,"d":0.9,"t":"192 atoms, frequencies on 3×3×3 mesh"},{"w":100.65,"d":0.29,"t":"5184 atoms, frequencies at"}]},"mark":{"type":"text","fontSize":13,"align":"left","baseline":"middle","color":"#000"},"encoding":{"text":{"field":"t"}}},
    {"data":{"values":[{"w":18.81,"d":1.34,"t":"q"},{"w":15.16,"d":0.87,"t":"q = 0"},{"w":271.9,"d":1.5,"t":"q = 0"},{"w":284.9,"d":0.29,"t":"q = 0"}]},"mark":{"type":"text","fontSize":13,"fontWeight":"bold","align":"left","baseline":"middle","color":"#000"},"encoding":{"text":{"field":"t"}}},
    {"data":{"values":[{"w":7.0,"d":1.71,"t":"b)"}]},"mark":{"type":"text","fontSize":17,"fontWeight":"bold","align":"left","baseline":"middle","color":"#000"},"encoding":{"text":{"field":"t"}}},
    {"data":{"values":[{"w":8.3,"d":0.82,"t":"(nm⁻³THz⁻¹)"}]},"mark":{"type":"text","fontSize":11,"align":"center","baseline":"middle","angle":270,"color":"#000"},"encoding":{"text":{"field":"t"}}}
   ]},
  {"data":{"values":[{}]},"mark":{"type":"rule","color":"#000","strokeDash":[2,2],"strokeWidth":1},
   "encoding":{"x":{"datum":8.96,"axis":null},"x2":{"datum":10},"y":{"datum":1,"scale":{"domain":[0,1.79],"nice":false},"axis":{"orient":"left","values":[0,0.2,0.4,0.6,0.8,1,1.2,1.4,1.6],"labels":false,"title":null,"tickSize":{"condition":{"test":"datum.value == 0 || datum.value == 1","value":-7},"value":-4}}}}}
 ],
 "resolve":{"scale":{"y":"independent"},"axis":{"x":"independent","y":"independent"}}
}
]
}
